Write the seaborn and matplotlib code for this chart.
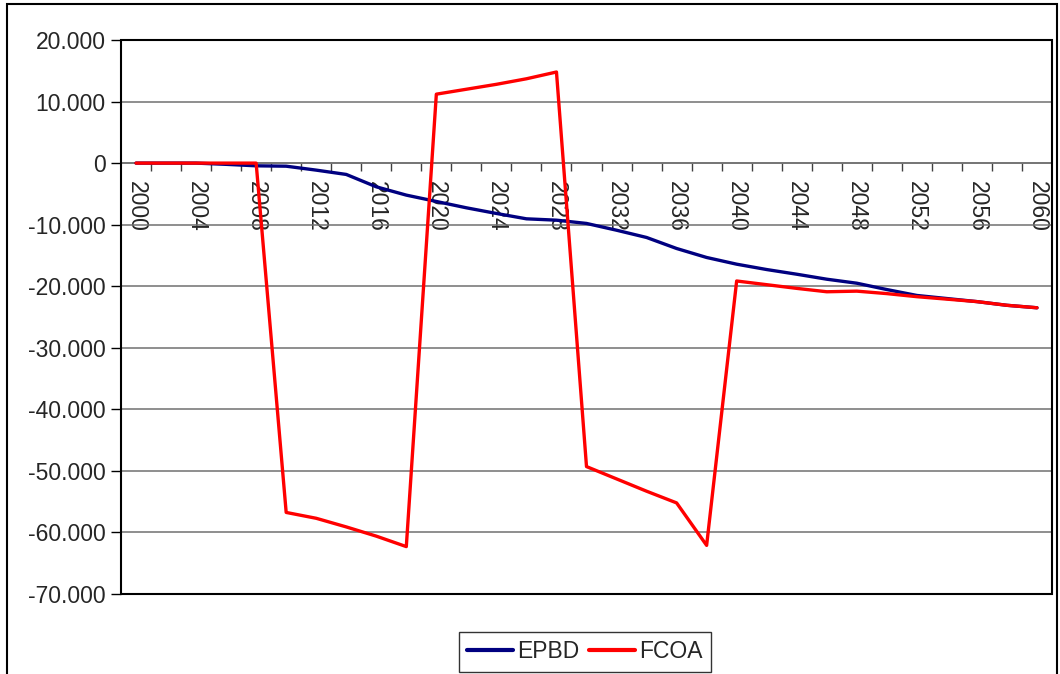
import matplotlib
matplotlib.use("Agg")
import matplotlib.pyplot as plt
from matplotlib.lines import Line2D
from matplotlib.patches import Rectangle
from matplotlib.ticker import FuncFormatter, MultipleLocator
import numpy as np
import pandas as pd
import seaborn as sns

# Years (every second year)
years = list(range(2000, 2061, 2))

epbd = [0, 0, 0, -200, -440, -500, -1140, -1840, -3850, -5200,
        -6230, -7260, -8180, -9050, -9270, -9800, -10900, -12080, -13870, -15330,
        -16420, -17290, -18050, -18860, -19510, -20540, -21500, -22000, -22500, -23100,
        -23500]

fcoa = [0, 0, 0, 0, 0, -56750, -57700, -59100, -60600, -62300,
        11200, 12000, 12800, 13700, 14800, -49300, -51300, -53300, -55200, -62100,
        -19150, -19750, -20350, -20900, -20800, -21200, -21700, -22100, -22500, -23100,
        -23500]

series_names = ["EPBD", "FCOA"]
series_colors = ["#000080", "#FF0000"]

df = pd.DataFrame({
    "year": years * 2,
    "value": epbd + fcoa,
    "series": ["EPBD"] * len(years) + ["FCOA"] * len(years),
})

sns.set_style("white")
plt.rcParams["font.family"] = ["Liberation Sans", "DejaVu Sans"]

FS = 16.5
W, H = 1060, 674
fig = plt.figure(figsize=(W / 100, H / 100), dpi=100)

# outer chart border
fig.patches.append(Rectangle((7 / W, -0.05), 1050 / W, 1 - 4 / H + 0.05,
                             transform=fig.transFigure, fill=False,
                             edgecolor="black", linewidth=1.5, zorder=0))

ax = fig.add_axes([121 / W, 1 - 594 / H, 931 / W, 554 / H])

sns.lineplot(data=df, x="year", y="value", hue="series",
             palette=dict(zip(series_names, series_colors)),
             linewidth=2.4, ax=ax, legend=False, zorder=3)

ax.set_xlim(1999, 2061)
ax.set_ylim(-70000, 20000)
ax.set_xlabel("")
ax.set_ylabel("")

# y axis
ax.yaxis.set_major_locator(MultipleLocator(10000))
ax.yaxis.set_major_formatter(FuncFormatter(lambda v, p: f"{v:,.0f}".replace(",", ".")))
ax.tick_params(axis="y", which="major", direction="out", length=7, width=1,
               color="black", labelsize=FS, pad=4, left=True)
ax.grid(axis="y", color="#707070", linewidth=1.1, zorder=1)
ax.grid(axis="x", visible=False)

# category axis sits on the zero line
for side in ["top", "right", "left"]:
    ax.spines[side].set_visible(False)
ax.spines["bottom"].set_position(("data", 0))
ax.spines["bottom"].set_color("#707070")
ax.spines["bottom"].set_linewidth(1.1)

ax.set_xticks(list(range(2000, 2061, 4)))
ax.set_xticklabels([str(y) for y in range(2000, 2061, 4)], rotation=270)
ax.set_xticks(list(range(2001, 2060, 2)), minor=True)
ax.tick_params(axis="x", which="major", length=0, labelsize=FS, pad=13)
ax.tick_params(axis="x", which="minor", direction="out", length=6, width=1,
               color="#404040", bottom=True)
for lbl in ax.get_xticklabels():
    lbl.set_verticalalignment("top")

# plot area frame
ax.add_patch(Rectangle((0, 0), 1, 1, transform=ax.transAxes, fill=False,
                       edgecolor="black", linewidth=1.5, zorder=4, clip_on=False))

handles = [Line2D([], [], color=c, linewidth=3) for c in series_colors]
leg = fig.legend(handles, series_names, loc="center", bbox_to_anchor=(585 / W, 1 - 652 / H),
                 ncol=2, fontsize=FS, frameon=True, fancybox=False,
                 handlelength=2.0, handletextpad=0.2, columnspacing=0.4,
                 borderpad=0.35, borderaxespad=0)
leg.get_frame().set_edgecolor("black")
leg.get_frame().set_linewidth(1.0)

fig.savefig("out.png", dpi=100)
